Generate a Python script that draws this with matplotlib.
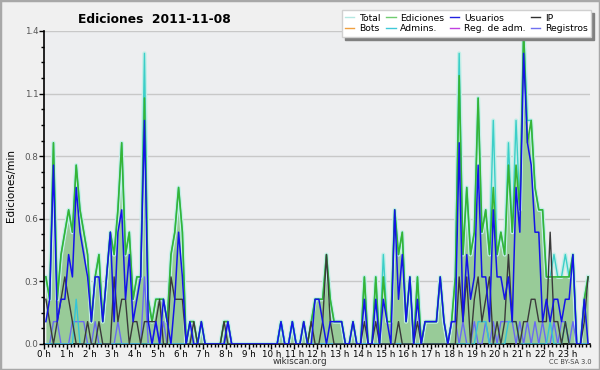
import numpy as np
import matplotlib
matplotlib.use('Agg')
import matplotlib.pyplot as plt
from matplotlib.ticker import MultipleLocator, FormatStrFormatter
from matplotlib.patches import Rectangle

# counts per 10 minutes (edits/min = count / 10), one row per hour
ediciones = [
    3, 2, 9, 2, 4, 5,   6, 5, 8, 6, 5, 4,   1, 3, 4, 1, 3, 5,   4, 6, 9, 4, 5, 2,
    3, 3, 11, 2, 1, 2,  2, 2, 1, 4, 5, 7,   5, 0, 1, 1, 0, 1,   0, 0, 0, 0, 0, 1,
    1, 0, 0, 0, 0, 0,   0, 0, 0, 0, 0, 0,   0, 0, 1, 0, 0, 1,   0, 0, 1, 0, 1, 2,
    2, 2, 4, 2, 1, 1,   1, 0, 0, 1, 0, 0,   3, 0, 0, 3, 0, 3,   1, 1, 6, 4, 5, 1,
    3, 0, 3, 0, 1, 1,   1, 1, 3, 1, 0, 1,   3, 12, 4, 7, 4, 5,  11, 5, 6, 4, 7, 4,
    5, 4, 8, 5, 8, 6,   14, 9, 10, 7, 6, 6, 3, 3, 3, 3, 3, 3,   3, 4, 0, 0, 2, 3,
]
total_extra = {26: 2, 89: 1, 109: 1, 118: 3, 122: 1, 124: 2, 127: 1, 134: 1,
               137: 1}
usuarios = [
    1, 2, 8, 1, 2, 2,   4, 3, 7, 5, 4, 3,   1, 3, 3, 1, 3, 5,   1, 5, 6, 2, 4, 1,
    2, 3, 10, 1, 0, 1,  0, 2, 1, 0, 2, 5,   3, 0, 1, 0, 0, 1,   0, 0, 0, 0, 0, 0,
    1, 0, 0, 0, 0, 0,   0, 0, 0, 0, 0, 0,   0, 0, 1, 0, 0, 1,   0, 0, 1, 0, 0, 2,
    2, 1, 0, 1, 1, 1,   1, 0, 0, 1, 0, 0,   2, 0, 0, 2, 0, 2,   1, 0, 6, 2, 4, 1,
    3, 0, 2, 0, 1, 1,   1, 1, 3, 1, 0, 1,   1, 9, 1, 4, 2, 3,   8, 3, 3, 1, 6, 3,
    3, 2, 3, 1, 7, 5,   13, 9, 8, 5, 5, 1,  2, 1, 2, 2, 1, 2,   2, 4, 0, 0, 2, 0,
]
ip = [
    2, 1, 0, 1, 2, 3,   2, 1, 0, 0, 0, 1,   0, 0, 1, 0, 0, 0,   3, 1, 2, 2, 0, 1,
    1, 0, 1, 1, 1, 1,   2, 0, 0, 3, 2, 2,   2, 0, 0, 1, 0, 0,   0, 0, 0, 0, 0, 1,
    0, 0, 0, 0, 0, 0,   0, 0, 0, 0, 0, 0,   0, 0, 0, 0, 0, 0,   0, 0, 0, 0, 1, 0,
    0, 1, 4, 1, 0, 0,   0, 0, 0, 0, 0, 0,   1, 0, 0, 1, 0, 0,   0, 0, 0, 1, 0, 0,
    0, 0, 1, 0, 0, 0,   0, 0, 0, 0, 0, 0,   0, 3, 1, 3, 0, 2,   3, 1, 2, 3, 0, 1,
    0, 1, 4, 1, 1, 0,   1, 1, 2, 2, 1, 1,   1, 5, 1, 1, 0, 1,   0, 0, 0, 0, 1, 3,
]
admins_nonzero = {8: 2, 62: 1, 65: 1, 114: 1, 115: 1, 116: 1, 122: 1, 123: 1,
                  124: 1, 133: 1, 137: 1}
registros_nonzero = {2: 1, 3: 1, 7: 1, 8: 1, 9: 1, 10: 1, 13: 1, 19: 1, 26: 3,
                     29: 1, 31: 1, 48: 1, 107: 1, 108: 1, 110: 1, 113: 1, 116: 1,
                     118: 1, 120: 1, 121: 1, 122: 1, 123: 1, 125: 1, 127: 1,
                     129: 1, 131: 1, 134: 1, 136: 1, 137: 1, 139: 1}
hour_labels = ['%d h' % h for h in range(24)]

n = len(ediciones)
x = (np.arange(n) + 0.5) / 6.0
ed = np.array(ediciones) / 10.0
tot = ed.copy()
for k, v in total_extra.items():
    tot[k] += v / 10.0
us = np.array(usuarios) / 10.0
ipv = np.array(ip) / 10.0
adm = np.zeros(n)
for k, v in admins_nonzero.items():
    adm[k] = v / 10.0
reg = np.zeros(n)
for k, v in registros_nonzero.items():
    reg[k] = v / 10.0

fig = plt.figure(figsize=(6, 3.7), dpi=100, facecolor='#f0f0f0')
fig.patches.append(Rectangle((0, 0), 1, 1, transform=fig.transFigure,
                             fill=False, ec='#a8a8a8', lw=2.5))
ax = fig.add_axes([0.0733, 0.0703, 0.910, 0.846], facecolor='#edeef0')

ax.fill_between(x, ed, color='#98cb98', lw=0, zorder=1)
ax.plot(x, tot, color='#c4eee8', lw=3, zorder=2)
ax.plot(x, tot, color='#3ccfc8', lw=1.0, zorder=2)
ax.plot(x, ed, color='#36b536', lw=1.2, zorder=3)
ax.plot(x, reg, color='#6a6af2', lw=1.0, zorder=4)
ax.plot(x, adm, color='#34c4d8', lw=1.0, zorder=4)
ax.plot(x, ipv, color='#3a3a3a', lw=1.0, zorder=5)
ax.plot(x, us, color='#1414e8', lw=1.1, zorder=6)

ax.set_xlim(0, 24)
ax.set_ylim(0, 1.4)
ax.yaxis.set_major_locator(MultipleLocator(0.28))
ax.yaxis.set_minor_locator(MultipleLocator(0.07))
ax.yaxis.set_major_formatter(FormatStrFormatter('%.1f'))
ax.set_xticks(range(24))
ax.set_xticklabels(hour_labels)
ax.xaxis.set_minor_locator(MultipleLocator(1 / 6.0))
ax.grid(axis='y', color='#c8c8c8', lw=1)
ax.set_axisbelow(True)
for s in ['top', 'right']:
    ax.spines[s].set_visible(False)
ax.spines['left'].set_linewidth(1.2)
ax.spines['bottom'].set_linewidth(1.2)
ax.tick_params(which='major', length=3.5, width=1, labelsize=6.3, pad=0.5,
               colors='black')
ax.tick_params(which='minor', length=2.5, width=1)
for lab in ax.get_yticklabels():
    lab.set_color('#555555')

fig.text(0.018, 0.5, 'Ediciones/min', fontsize=7.5, rotation=90,
         ha='center', va='center')
fig.text(0.258, 0.948, 'Ediciones  2011-11-08', fontsize=8.8, fontweight='bold',
         ha='center', va='center')
fig.text(0.5, 0.022, 'wikiscan.org', fontsize=6.3, ha='center', va='center',
         color='#333333')
fig.text(0.95, 0.022, 'CC BY-SA 3.0', fontsize=4.8, ha='center', va='center',
         color='#444444')

names = ['Total', 'Bots', 'Ediciones', 'Admins.', 'Usuarios', 'Reg. de adm.',
         'IP', 'Registros']
cols = ['#b4e8e2', '#f0a040', '#70cc70', '#40c8d8', '#2020e0', '#c040e0',
        '#303030', '#7070f0']
handles = [plt.Line2D([], [], color=c, lw=1) for c in cols]
leg = fig.legend(handles, names, ncol=4, loc='upper right',
                 bbox_to_anchor=(0.985, 0.972), fontsize=6.7, frameon=True,
                 fancybox=False, shadow={'color': '#808080', 'alpha': 1},
                 handlelength=1.0, handletextpad=0.5, columnspacing=0.6,
                 labelspacing=0.2, borderpad=0.35, borderaxespad=0)
leg.get_frame().set_edgecolor('#d0d0d0')
leg.get_frame().set_facecolor('white')

plt.savefig('out.png', dpi=100, facecolor=fig.get_facecolor())
